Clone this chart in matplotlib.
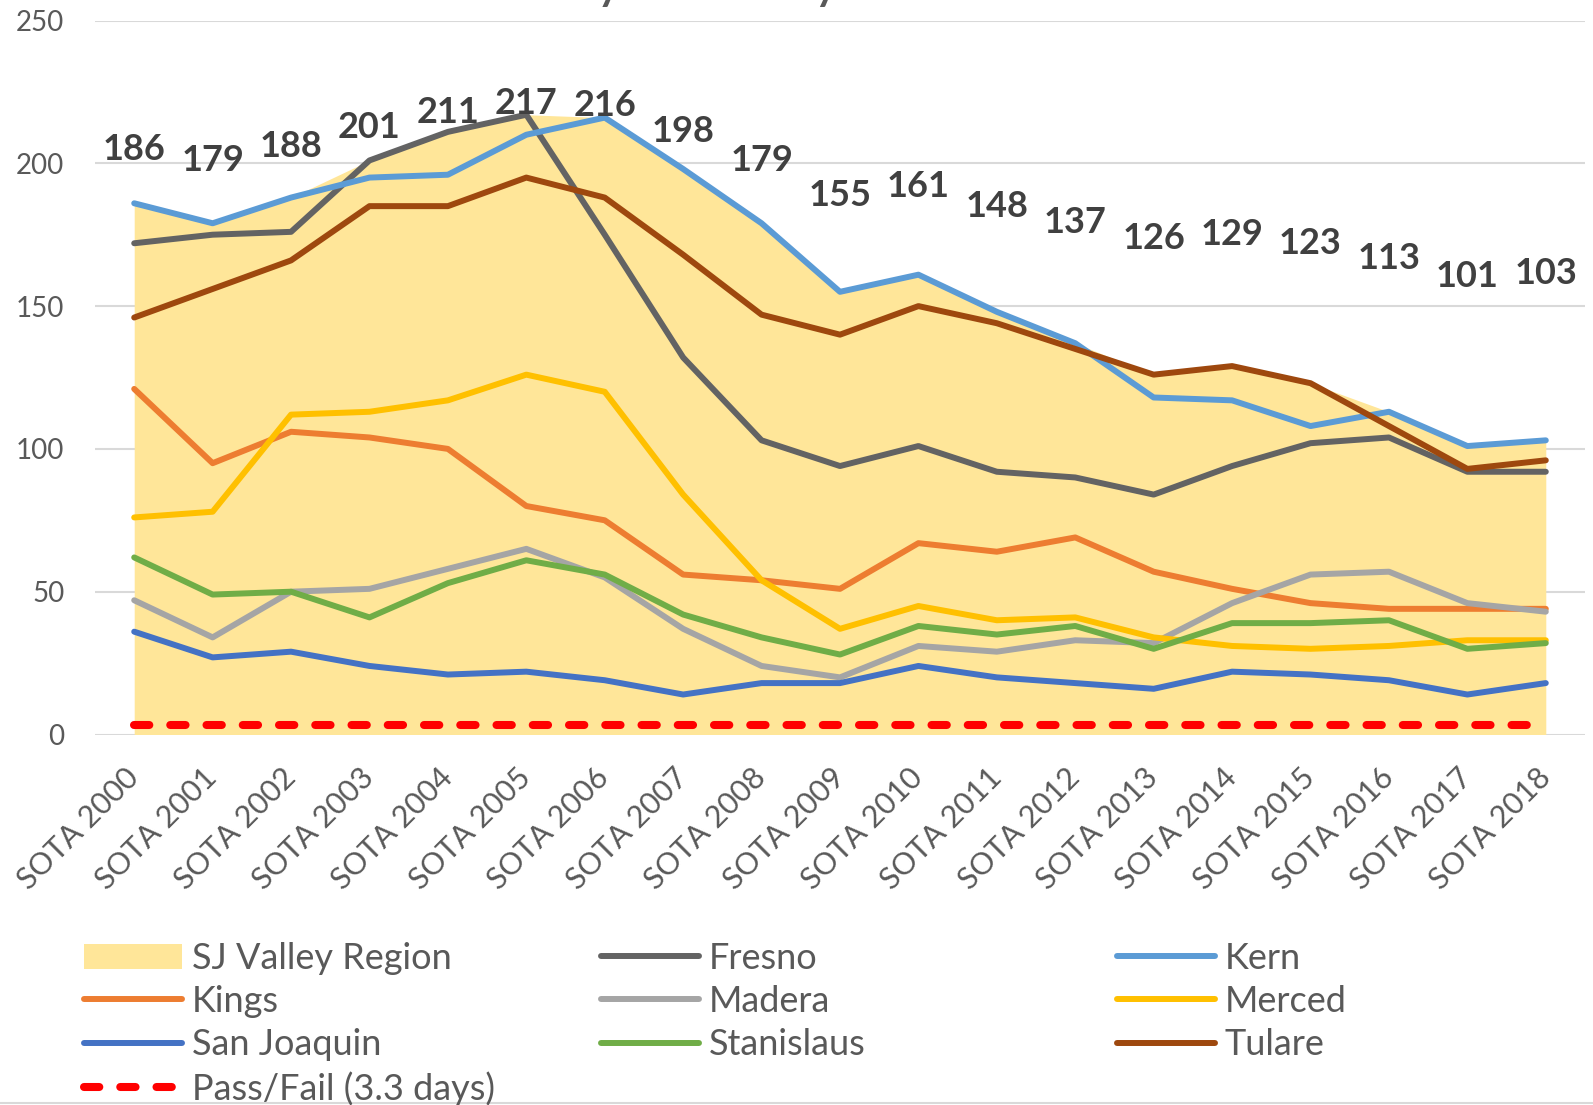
import matplotlib
matplotlib.use("Agg")
import matplotlib.pyplot as plt
from matplotlib.lines import Line2D
from matplotlib.patches import Patch
import numpy as np

plt.rcParams['font.family'] = ['Lato', 'DejaVu Sans']

# data
years = ["SOTA 2000", "SOTA 2001", "SOTA 2002", "SOTA 2003", "SOTA 2004", "SOTA 2005",
         "SOTA 2006", "SOTA 2007", "SOTA 2008", "SOTA 2009", "SOTA 2010", "SOTA 2011",
         "SOTA 2012", "SOTA 2013", "SOTA 2014", "SOTA 2015", "SOTA 2016", "SOTA 2017",
         "SOTA 2018"]
region = [186, 179, 188, 201, 211, 217, 216, 198, 179, 155, 161, 148, 137, 126, 129, 123, 113, 101, 103]
fresno = [172, 175, 176, 201, 211, 217, 175, 132, 103, 94, 101, 92, 90, 84, 94, 102, 104, 92, 92]
kern = [186, 179, 188, 195, 196, 210, 216, 198, 179, 155, 161, 148, 137, 118, 117, 108, 113, 101, 103]
kings = [121, 95, 106, 104, 100, 80, 75, 56, 54, 51, 67, 64, 69, 57, 51, 46, 44, 44, 44]
madera = [47, 34, 50, 51, 58, 65, 55, 37, 24, 20, 31, 29, 33, 32, 46, 56, 57, 46, 43]
merced = [76, 78, 112, 113, 117, 126, 120, 84, 54, 37, 45, 40, 41, 34, 31, 30, 31, 33, 33]
san_joaquin = [36, 27, 29, 24, 21, 22, 19, 14, 18, 18, 24, 20, 18, 16, 22, 21, 19, 14, 18]
stanislaus = [62, 49, 50, 41, 53, 61, 56, 42, 34, 28, 38, 35, 38, 30, 39, 39, 40, 30, 32]
tulare = [146, 156, 166, 185, 185, 195, 188, 168, 147, 140, 150, 144, 135, 126, 129, 123, 108, 93, 96]
pass_fail = 3.3

counties = [("Fresno", fresno, "#636363"),
            ("Kern", kern, "#5B9BD5"),
            ("Kings", kings, "#ED7D31"),
            ("Madera", madera, "#A5A5A5"),
            ("Merced", merced, "#FFC000"),
            ("San Joaquin", san_joaquin, "#4472C4"),
            ("Stanislaus", stanislaus, "#70AD47"),
            ("Tulare", tulare, "#9E480E")]

x = np.arange(len(years))

fig = plt.figure(figsize=(15.93, 11.05), dpi=100)
ax = fig.add_axes([95 / 1593, 1 - 734.5 / 1105, 1490 / 1593, 714 / 1105])

ax.fill_between(x, region, color="#FFE699", lw=0, zorder=1)
handles = {"SJ Valley Region": Patch(facecolor="#FFE699", edgecolor="none")}
for name, vals, col in counties:
    ln, = ax.plot(x, vals, color=col, lw=4.3, solid_capstyle="round",
                  solid_joinstyle="round", zorder=3)
    handles[name] = ln
pf, = ax.plot(x, [pass_fail] * len(x), color="#FF0000", lw=5.8,
              linestyle=(0, (1.9, 2.6)), dash_capstyle="round", zorder=4)
handles["Pass/Fail (3.3 days)"] = pf

# region labels
for i, v in enumerate(region):
    ax.text(i, 108 + 0.52 * v, str(v), ha="center", va="center",
            fontsize=26, fontweight="bold", color="#404040", zorder=5)

ax.set_xlim(-0.5, 18.5)
ax.set_ylim(0, 250)
ax.set_yticks(range(0, 251, 50))
ax.set_xticks(x)
ax.set_xticklabels(years, rotation=45, ha="right", va="center", rotation_mode="anchor")
ax.tick_params(axis="both", length=0, colors="#595959")
ax.tick_params(axis="y", pad=22, labelsize=20)
ax.tick_params(axis="x", pad=28, labelsize=22)
for s in ax.spines.values():
    s.set_visible(False)
ax.grid(axis="y", color="#D9D9D9", lw=1.5, zorder=0)
ax.set_axisbelow(True)

fig.text(0.512, 1.0, "Unhealthy Ozone Days: SOTA 2000-2018", ha="center",
         va="baseline", fontsize=30, fontweight="bold", color="#595959")

# legend in three columns
cols = [(["SJ Valley Region", "Kings", "San Joaquin", "Pass/Fail (3.3 days)"], 84),
        (["Fresno", "Madera", "Stanislaus"], 601),
        (["Kern", "Merced", "Tulare"], 1117)]
for names, xpx in cols:
    fig.legend([handles[n] for n in names], names, loc="upper left",
               bbox_to_anchor=(xpx / 1593, 1 - 942 / 1105), frameon=False,
               fontsize=26, handlelength=2.7, handletextpad=0.28,
               labelspacing=0.28, borderpad=0, borderaxespad=0,
               labelcolor="#595959")

fig.add_artist(Line2D([0, 1], [1 - 1103 / 1105] * 2, color="#D9D9D9", lw=1.5))

fig.savefig("out.png", dpi=100)
